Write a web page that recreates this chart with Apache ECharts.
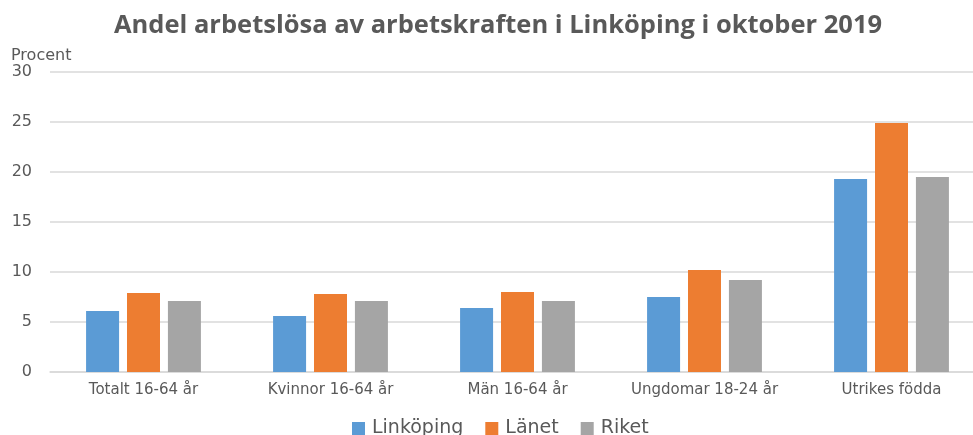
<!DOCTYPE html>
<html>
<head>
<meta charset="utf-8">
<script src="https://cdn.jsdelivr.net/npm/echarts@6/dist/echarts.min.js"></script>
<style>
	html, body { margin: 0; padding: 0; background: #fff; overflow: hidden; }
	#chart { width: 985px; height: 435px; }
</style>
</head>
<body>
<div id="chart"></div>
<script>
	const categories = ['Totalt 16-64 år', 'Kvinnor 16-64 år', 'Män 16-64 år', 'Ungdomar 18-24 år', 'Utrikes födda']
	const linkoping = [6.1, 5.6, 6.4, 7.5, 19.3]
	const lanet = [7.9, 7.8, 8.0, 10.2, 24.9]
	const riket = [7.1, 7.1, 7.1, 9.2, 19.5]

	const titleFont = '"Open Sans", "DejaVu Sans", sans-serif'
	const font = '"DejaVu Sans", sans-serif'
	const textColor = '#595959'

	// plot area runs past the right edge of the window, like the original
	const chart = echarts.init(document.getElementById('chart'))

	chart.setOption({
		animation: false,
		textStyle: { fontFamily: font },
		title: {
			text: 'Andel arbetslösa av arbetskraften i Linköping i oktober 2019',
			left: 114,
			top: 13,
			padding: 0,
			textStyle: {
				fontFamily: titleFont,
				fontSize: 25.5,
				fontWeight: 'bold',
				color: textColor
			}
		},
		legend: {
			bottom: -3,
			left: 352,
			padding: 0,
			itemWidth: 13,
			itemHeight: 13,
			itemGap: 22,
			icon: 'rect',
			textStyle: { fontSize: 19, color: textColor, fontFamily: font, padding: [0, 0, 0, 2] },
			data: ['Linköping', 'Länet', 'Riket']
		},
		grid: {
			top: 72,
			left: 50,
			right: 0,
			bottom: 63
		},
		xAxis: {
			type: 'category',
			data: categories,
			axisTick: { show: false },
			axisLine: { lineStyle: { color: '#d9d9d9', width: 1.5 } },
			axisLabel: { color: textColor, fontSize: 15, margin: 11, interval: 0 }
		},
		yAxis: {
			type: 'value',
			name: 'Procent',
			nameLocation: 'end',
			nameGap: 8,
			nameTextStyle: { color: textColor, fontSize: 16, align: 'left', padding: [0, 0, 0, -39] },
			min: 0,
			max: 30,
			interval: 5,
			axisLine: { show: false },
			axisTick: { show: false },
			axisLabel: { color: textColor, fontSize: 16, margin: 18 },
			splitLine: { lineStyle: { color: '#d9d9d9', width: 1.5 } }
		},
		series: [
			{
				name: 'Linköping',
				type: 'bar',
				data: linkoping,
				barWidth: 33,
				barGap: '24%',
				itemStyle: { color: '#5b9bd5' }
			},
			{
				name: 'Länet',
				type: 'bar',
				data: lanet,
				barWidth: 33,
				barGap: '24%',
				itemStyle: { color: '#ed7d31' }
			},
			{
				name: 'Riket',
				type: 'bar',
				data: riket,
				barWidth: 33,
				barGap: '24%',
				itemStyle: { color: '#a5a5a5' }
			}
		]
	})
</script>
</body>
</html>
